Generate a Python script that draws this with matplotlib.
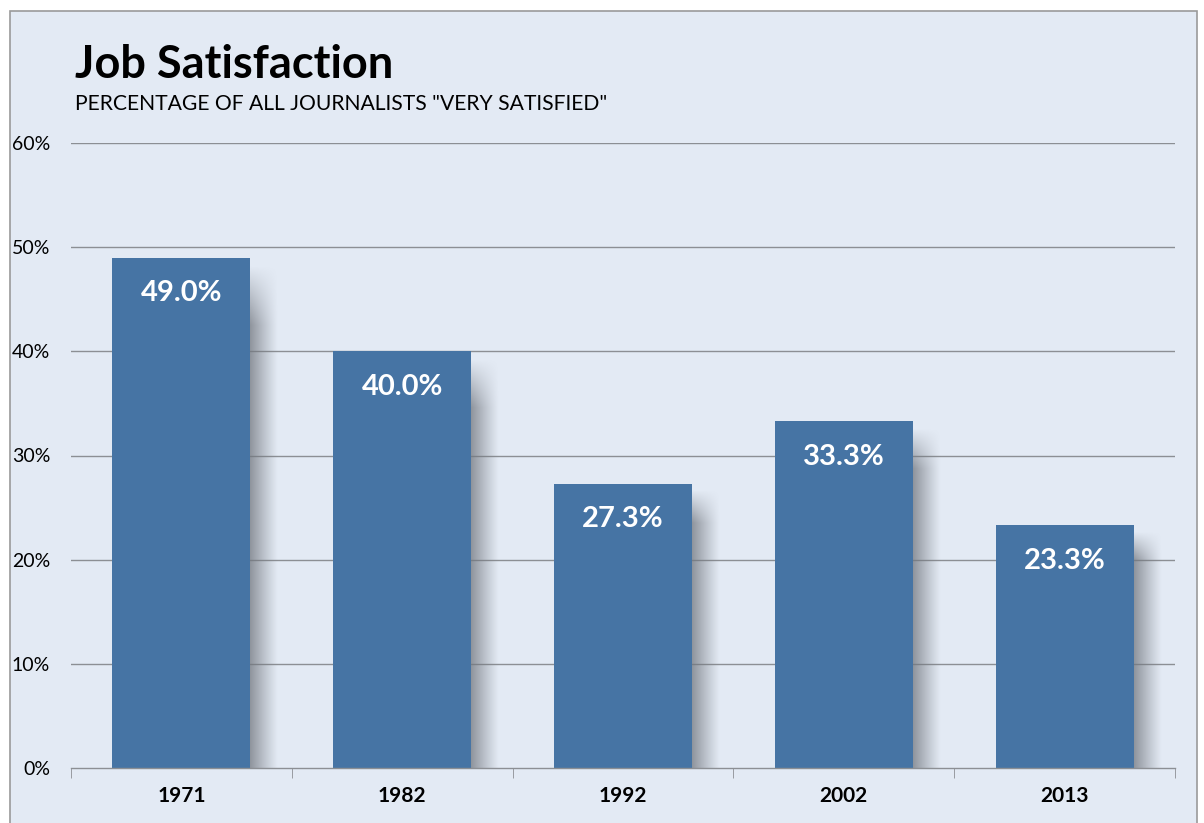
import numpy as np
import matplotlib
matplotlib.use("Agg")
import matplotlib.pyplot as plt
from matplotlib.patches import Rectangle

# data
years = ["1971", "1982", "1992", "2002", "2013"]
very_satisfied = [49.0, 40.0, 27.3, 33.3, 23.3]
y_ticks = [0, 10, 20, 30, 40, 50, 60]

bg = "#e3eaf4"
bar_color = "#4674a4"
grid_color = "#8c8f94"

plt.rcParams["font.family"] = ["Lato", "DejaVu Sans"]

fig = plt.figure(figsize=(12.04, 8.23), dpi=100)
fig.patch.set_facecolor("white")
W, H = 1204, 823

# panel background with thin grey border (bottom edge runs off the picture)
fig.patches.append(Rectangle((10 / W, -0.02), 1187 / W, (H - 11) / H + 0.02, transform=fig.transFigure,
                             facecolor=bg, edgecolor="#9a9a9a", linewidth=1.2, zorder=-10))

ax = fig.add_axes([71 / W, (H - 768) / H, (1175 - 71) / W, (768 - 143) / H])
ax.set_facecolor("none")
x = np.arange(len(years))
bw = 0.625

# grid
for t in y_ticks[1:]:
    ax.axhline(t, color=grid_color, linewidth=1, zorder=1)

# soft shadow right of each bar
shadow_w = 0.125
grad = np.linspace(1, 0, 64) ** 1.1
for xi, v in zip(x, very_satisfied):
    rows = 60
    vfade = np.ones(rows)
    vfade[:8] = np.linspace(0, 1, 8)
    alpha = 0.75 * np.outer(vfade, grad)
    img = np.zeros((rows, 64, 4))
    img[..., 0] = 0.45
    img[..., 1] = 0.47
    img[..., 2] = 0.50
    img[..., 3] = alpha
    ax.imshow(img, extent=(xi + bw / 2, xi + bw / 2 + shadow_w, 0, v - 0.5),
              aspect="auto", zorder=2, interpolation="bilinear")

bars = ax.bar(x, very_satisfied, width=bw, color=bar_color, zorder=3)
for xi, v in zip(x, very_satisfied):
    ax.text(xi, v - 3.4, f"{v:.1f}%", ha="center", va="center", color="white",
            fontsize=21, fontweight="bold", zorder=4)

ax.set_xlim(-0.5, len(years) - 0.5)
ax.set_ylim(0, 60)
ax.set_aspect("auto")

for s in ["top", "right", "left"]:
    ax.spines[s].set_visible(False)
ax.spines["bottom"].set_color(grid_color)
ax.spines["bottom"].set_linewidth(1)
ax.spines["bottom"].set_zorder(5)

ax.set_yticks(y_ticks)
ax.set_yticklabels([f"{t}%" for t in y_ticks], fontsize=14)
ax.tick_params(axis="y", length=0, pad=15)

ax.set_xticks(np.arange(len(years) + 1) - 0.5, minor=True)
ax.set_xticks(x)
ax.set_xticklabels(years, fontsize=15, fontweight="bold")
ax.tick_params(axis="x", which="major", length=0, pad=13)
ax.tick_params(axis="x", which="minor", length=7, color=grid_color, direction="out")

fig.text(75 / W, 1 - 78 / H, "Job Satisfaction", fontsize=32.5, fontweight="bold", va="baseline")
fig.text(75 / W, 1 - 110 / H, 'PERCENTAGE OF ALL JOURNALISTS "VERY SATISFIED"', fontsize=15.2,
         va="baseline")

fig.savefig("out.png", dpi=100, facecolor=fig.get_facecolor())
